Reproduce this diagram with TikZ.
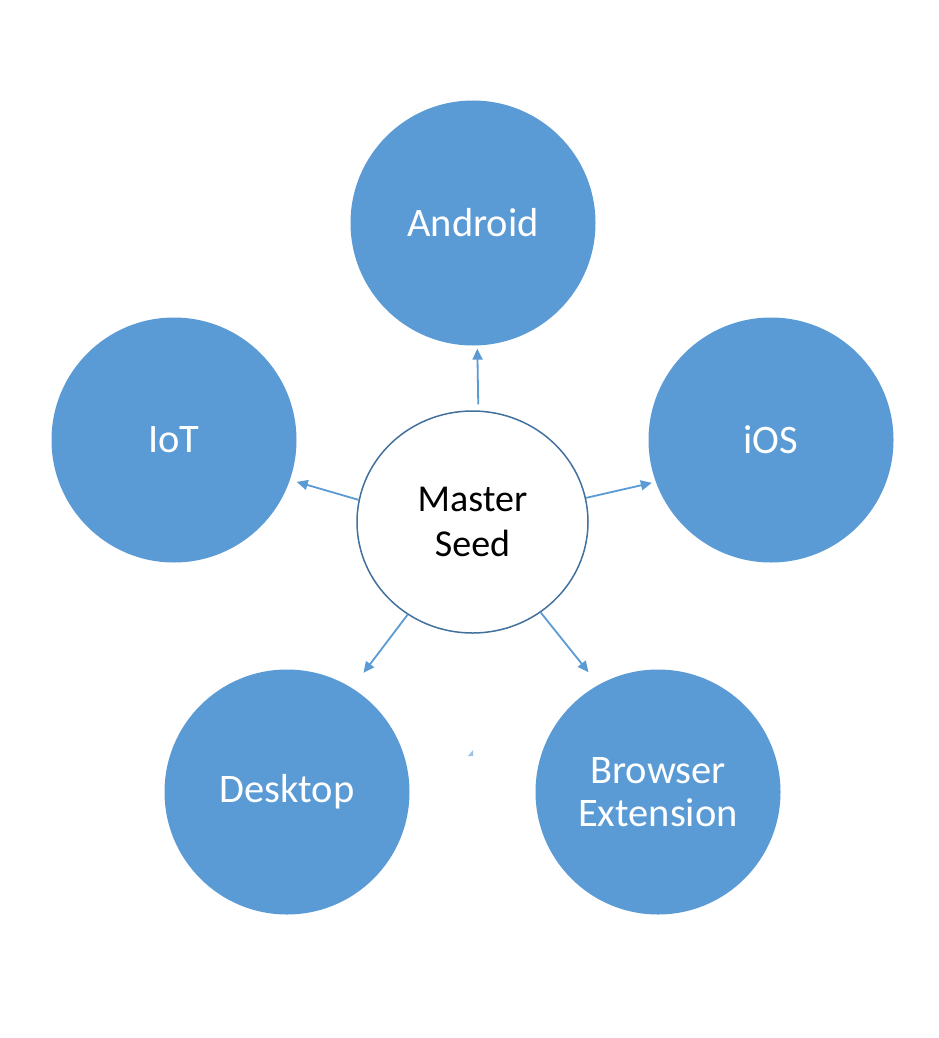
\documentclass[tikz,border=0pt]{standalone}
\usepackage{fontspec}
\setmainfont{Carlito}
\usetikzlibrary{shapes.geometric,arrows.meta}
\definecolor{obblue}{HTML}{5B9BD5}
\definecolor{obdark}{HTML}{41719C}
\tikzset{
  platform/.style={circle, fill=obblue, draw=none, minimum size=245pt, inner sep=0pt,
    text=white, align=center, font=\fontsize{40.5}{43}\selectfont},
  seed/.style={ellipse, draw=obdark, line width=1.5pt, fill=white, minimum width=231pt,
    minimum height=222pt, inner sep=0pt, align=center, text=black, font=\fontsize{38}{45}\selectfont},
  arr/.style={draw=obblue, line width=1.8pt, -{Triangle[length=11pt,width=10pt]}}
}
\begin{document}
\begin{tikzpicture}[x=1pt,y=-1pt]
\fill[white] (0,0) rectangle (938,1038);
\useasboundingbox (0,0) rectangle (938,1038);
\node[platform] (and) at (473,223) {Android};
\node[platform] (ios) at (771,440) {iOS};
\node[platform] (iot) at (174,440) {IoT};
\node[platform] (desk) at (287,792) {Desktop};
\node[platform] (brow) at (658,792) {Browser\\Extension};
\node[seed] (ms) at (472.5,522) {Master\\Seed};
\draw[arr, shorten <=6pt, shorten >=3pt] (ms.87) -- (and.-88);
\draw[arr, shorten >=7pt] (ms.169) -- (iot.-19);
\draw[arr, shorten >=4pt] (ms.12) -- (ios.-160);
\draw[arr, shorten >=19pt] (ms.-125.6) -- (desk.58);
\draw[arr, shorten >=16pt] (ms.-53.8) -- (brow.119.5);
\fill[obblue!60] (468,756) -- (473,756) -- (473,750) -- cycle;
\end{tikzpicture}
\end{document}
